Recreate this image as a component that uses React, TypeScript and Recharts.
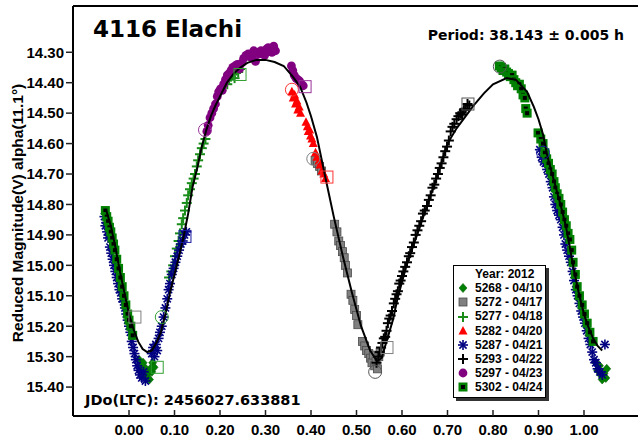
import { ScatterChart, Scatter, XAxis, YAxis, Legend } from 'recharts';

type Pt = [number, number];

// phase ticks and magnitude ticks
const xTicks = [0, 0.1, 0.2, 0.3, 0.4, 0.5, 0.6, 0.7, 0.8, 0.9, 1.0];
const yTicks = [14.3, 14.4, 14.5, 14.6, 14.7, 14.8, 14.9, 15.0, 15.1, 15.2, 15.3, 15.4];

// Fourier fit
const fitCurve: Pt[] = [
    [-0.05, 14.82], [-0.04, 14.87], [-0.03, 14.94], [-0.02, 15.02], [-0.01, 15.09], [0.0, 15.16],
    [0.01, 15.21], [0.02, 15.25], [0.03, 15.275], [0.04, 15.285], [0.05, 15.28], [0.06, 15.255],
    [0.07, 15.22], [0.08, 15.16], [0.09, 15.09], [0.1, 15.03], [0.11, 14.97], [0.12, 14.905],
    [0.13, 14.83], [0.14, 14.74], [0.15, 14.68], [0.16, 14.61], [0.17, 14.555], [0.18, 14.51],
    [0.19, 14.475], [0.2, 14.445], [0.215, 14.4], [0.23, 14.37], [0.245, 14.35], [0.26, 14.335],
    [0.28, 14.325], [0.3, 14.325], [0.32, 14.332], [0.34, 14.345], [0.36, 14.38], [0.376, 14.413],
    [0.39, 14.465], [0.4, 14.51], [0.413, 14.578], [0.43, 14.7], [0.45, 14.84], [0.47, 14.97],
    [0.49, 15.09], [0.51, 15.2], [0.53, 15.28], [0.545, 15.315], [0.555, 15.305], [0.567, 15.245],
    [0.58, 15.18], [0.59, 15.11], [0.61, 15.0], [0.64, 14.87], [0.67, 14.74], [0.7, 14.6],
    [0.72, 14.55], [0.74, 14.51], [0.76, 14.47], [0.78, 14.435], [0.8, 14.405], [0.83, 14.385],
    [0.85, 14.39], [0.875, 14.43], [0.89, 14.48], [0.9, 14.52], [0.91, 14.57], [0.92, 14.645],
    [0.93, 14.7], [0.94, 14.755], [0.95, 14.81], [0.96, 14.87], [0.97, 14.95], [0.98, 15.03],
    [0.99, 15.1], [1.0, 15.16], [1.01, 15.205], [1.02, 15.24], [1.03, 15.265], [1.04, 15.28],
];

const s5268: Pt[] = [
    [0.022, 15.31], [0.026, 15.33], [0.029, 15.35], [0.031, 15.32], [0.034, 15.36], [0.037, 15.34],
    [0.04, 15.37], [0.042, 15.355], [0.045, 15.375], [0.047, 15.34], [0.05, 15.35], [0.052, 15.32],
    [0.055, 15.335], [1.026, 15.32], [1.03, 15.345], [1.034, 15.33], [1.037, 15.36], [1.04, 15.375],
    [1.044, 15.355], [1.048, 15.37], [1.05, 15.34],
];

const s5272: Pt[] = [
    [0.409, 14.655], [0.414, 14.665], [0.419, 14.675], [0.423, 14.69], [0.452, 14.865], [0.457, 14.89],
    [0.461, 14.92], [0.465, 14.935], [0.469, 14.955], [0.473, 14.975], [0.476, 15.0], [0.48, 15.025],
    [0.488, 15.095], [0.492, 15.115], [0.496, 15.145], [0.5, 15.165], [0.503, 15.195], [0.513, 15.25],
    [0.518, 15.265], [0.522, 15.28], [0.527, 15.29], [0.531, 15.305], [0.534, 15.32], [0.537, 15.295],
    [0.54, 15.33], [0.543, 15.315], [0.546, 15.34], [0.549, 15.3], [0.552, 15.285],
];

const s5277: Pt[] = [
    [0.088, 15.04], [0.093, 15.02], [0.097, 15.0], [0.101, 14.97], [0.105, 14.945], [0.109, 14.92],
    [0.112, 14.895], [0.116, 14.865], [0.119, 14.845], [0.123, 14.82], [0.127, 14.795], [0.13, 14.77],
    [0.134, 14.75], [0.138, 14.73], [0.142, 14.715], [0.145, 14.7], [0.149, 14.675], [0.152, 14.655],
    [0.156, 14.635], [0.16, 14.615], [0.164, 14.6], [0.168, 14.585], [0.216, 14.405], [0.22, 14.39],
    [0.224, 14.38], [0.228, 14.37], [0.232, 14.385], [0.236, 14.36], [0.24, 14.365], [0.244, 14.355],
];

const s5282: Pt[] = [
    [0.358, 14.43], [0.361, 14.45], [0.364, 14.44], [0.366, 14.47], [0.369, 14.46], [0.371, 14.49],
    [0.374, 14.48], [0.377, 14.5], [0.389, 14.53], [0.392, 14.545], [0.394, 14.56], [0.397, 14.555],
    [0.399, 14.575], [0.402, 14.585], [0.405, 14.6], [0.41, 14.63], [0.413, 14.645], [0.417, 14.66],
    [0.42, 14.67], [0.424, 14.69], [0.428, 14.7], [0.432, 14.715],
];

const s5287: Pt[] = [
    [-0.054, 14.84], [-0.052, 14.87], [-0.05, 14.86], [-0.048, 14.89], [-0.046, 14.91], [-0.044, 14.9],
    [-0.042, 14.94], [-0.039, 14.96], [-0.036, 14.98], [-0.033, 15.0], [-0.03, 15.02], [-0.027, 15.04],
    [-0.024, 15.06], [-0.021, 15.08], [-0.018, 15.09], [-0.015, 15.11], [-0.012, 15.12], [-0.009, 15.14],
    [-0.006, 15.16], [-0.003, 15.18], [0.0, 15.2], [0.003, 15.22], [0.006, 15.25], [0.009, 15.27],
    [0.012, 15.29], [0.015, 15.31], [0.018, 15.33], [0.021, 15.345], [0.024, 15.36], [0.028, 15.37],
    [0.032, 15.35], [0.036, 15.38],
    [0.05, 15.29], [0.053, 15.27], [0.056, 15.3], [0.059, 15.26], [0.062, 15.28], [0.065, 15.24],
    [0.068, 15.22], [0.072, 15.2], [0.076, 15.17], [0.08, 15.14], [0.084, 15.11], [0.087, 15.08],
    [0.09, 15.06], [0.094, 15.03], [0.098, 15.01], [0.102, 14.99], [0.106, 14.97], [0.11, 14.95],
    [0.114, 14.93], [0.118, 14.92], [0.122, 14.9], [0.126, 14.89],
    [0.903, 14.62], [0.907, 14.645], [0.911, 14.66], [0.915, 14.665], [0.919, 14.685], [0.923, 14.7],
    [0.927, 14.725], [0.931, 14.745], [0.934, 14.775], [0.937, 14.8], [0.941, 14.82], [0.945, 14.835],
    [0.949, 14.85], [0.953, 14.875], [0.956, 14.9], [0.959, 14.93], [0.963, 14.95], [0.967, 14.97],
    [0.971, 14.99], [0.975, 15.02], [0.978, 15.05], [0.982, 15.08], [0.986, 15.1], [0.99, 15.125],
    [0.994, 15.15], [0.998, 15.17], [1.002, 15.19], [1.006, 15.215], [1.01, 15.24], [1.014, 15.26],
    [1.018, 15.285], [1.022, 15.31], [1.026, 15.32], [1.03, 15.34], [1.035, 15.35], [1.04, 15.36],
    [1.046, 15.26],
];

const s5293: Pt[] = [
    [0.544, 15.32], [0.548, 15.3], [0.551, 15.285], [0.554, 15.27], [0.557, 15.255], [0.56, 15.24],
    [0.563, 15.235], [0.566, 15.215], [0.569, 15.19], [0.572, 15.175], [0.575, 15.165], [0.578, 15.15],
    [0.582, 15.125], [0.585, 15.11], [0.588, 15.095], [0.591, 15.085], [0.594, 15.06], [0.597, 15.05],
    [0.6, 15.035], [0.603, 15.02], [0.607, 15.005], [0.611, 14.99], [0.615, 14.97], [0.618, 14.96],
    [0.622, 14.94], [0.626, 14.925], [0.63, 14.9], [0.634, 14.885], [0.638, 14.87], [0.642, 14.855],
    [0.646, 14.83], [0.65, 14.82], [0.655, 14.805], [0.659, 14.785], [0.663, 14.77], [0.667, 14.745],
    [0.671, 14.735], [0.675, 14.715], [0.679, 14.7], [0.683, 14.68], [0.687, 14.665], [0.691, 14.645],
    [0.695, 14.625], [0.699, 14.61], [0.703, 14.59], [0.707, 14.56], [0.711, 14.545], [0.715, 14.535],
    [0.72, 14.52], [0.724, 14.51], [0.728, 14.5], [0.732, 14.505], [0.736, 14.49], [0.74, 14.485],
    [0.744, 14.47], [0.748, 14.475],
];

const s5297: Pt[] = [
    [0.171, 14.56], [0.174, 14.54], [0.178, 14.515], [0.182, 14.5], [0.186, 14.485], [0.19, 14.47],
    [0.194, 14.445], [0.197, 14.43], [0.201, 14.42], [0.205, 14.425], [0.208, 14.405], [0.212, 14.39],
    [0.216, 14.375], [0.22, 14.37], [0.224, 14.36], [0.228, 14.35], [0.233, 14.345], [0.238, 14.34],
    [0.243, 14.355], [0.248, 14.335], [0.252, 14.32], [0.257, 14.31], [0.262, 14.305], [0.266, 14.315],
    [0.27, 14.31], [0.274, 14.295], [0.278, 14.33], [0.282, 14.3], [0.286, 14.305], [0.29, 14.295],
    [0.294, 14.3], [0.298, 14.31], [0.302, 14.29], [0.306, 14.285], [0.31, 14.295], [0.314, 14.3],
    [0.318, 14.28], [0.322, 14.295], [0.357, 14.345], [0.36, 14.36], [0.363, 14.375], [0.367, 14.385],
    [0.371, 14.39], [0.375, 14.395], [0.379, 14.405], [0.383, 14.41],
];

const s5302: Pt[] = [
    [-0.052, 14.82], [-0.049, 14.84], [-0.046, 14.855], [-0.043, 14.875], [-0.04, 14.89], [-0.037, 14.91],
    [-0.034, 14.93], [-0.031, 14.95], [-0.027, 14.98], [-0.023, 15.01], [-0.019, 15.04], [-0.015, 15.07],
    [-0.011, 15.1], [-0.007, 15.13], [-0.003, 15.16], [0.0, 15.18], [0.004, 15.2], [0.008, 15.23],
    [0.814, 14.345], [0.818, 14.35], [0.822, 14.36], [0.826, 14.355], [0.83, 14.365], [0.834, 14.37],
    [0.838, 14.38], [0.842, 14.375], [0.846, 14.39], [0.85, 14.4], [0.854, 14.41], [0.858, 14.405],
    [0.862, 14.42], [0.866, 14.44], [0.87, 14.45], [0.872, 14.485], [0.875, 14.5],
    [0.899, 14.565], [0.905, 14.585], [0.91, 14.6], [0.914, 14.63], [0.918, 14.65], [0.922, 14.665],
    [0.926, 14.685], [0.93, 14.7], [0.934, 14.725], [0.937, 14.745], [0.941, 14.765], [0.945, 14.78],
    [0.949, 14.8], [0.953, 14.825], [0.957, 14.85], [0.961, 14.87], [0.965, 14.895], [0.969, 14.915],
    [0.973, 14.95], [0.976, 14.99], [0.981, 15.03], [0.985, 15.07], [0.99, 15.1], [0.996, 15.13],
    [1.001, 15.16], [1.007, 15.19], [1.013, 15.22], [1.02, 15.25],
];

// first / last observation marks: [phase, mag, session]
const firstMarks: [number, number, string][] = [
    [0.167, 14.555, '5297'], [0.358, 14.423, '5282'], [0.405, 14.65, '5272'], [0.541, 15.35, '5293'],
    [0.815, 14.347, '5302'], [0.91, 14.63, '5287'], [0.072, 15.17, '5277'],
];
const lastMarks: [number, number, string][] = [
    [0.387, 14.413, '5297'], [0.435, 14.71, '5282'], [0.567, 15.27, '5272'], [0.745, 14.47, '5293'],
    [0.244, 14.373, '5277'], [0.123, 14.905, '5287'], [0.062, 15.335, '5268'], [0.013, 15.17, '5272'],
];

interface Session {
    key: string;
    label: string;
    color: string;
    kind: string;
    data: Pt[];
}

const sessions: Session[] = [
    { key: '5268', label: '5268 - 04/10', color: '#008000', kind: 'diamond', data: s5268 },
    { key: '5272', label: '5272 - 04/17', color: '#808080', kind: 'square', data: s5272 },
    { key: '5277', label: '5277 - 04/18', color: '#1a8c1a', kind: 'plus', data: s5277 },
    { key: '5282', label: '5282 - 04/20', color: '#ff0000', kind: 'triangle', data: s5282 },
    { key: '5287', label: '5287 - 04/21', color: '#000080', kind: 'asterisk', data: s5287 },
    { key: '5293', label: '5293 - 04/22', color: '#000000', kind: 'plus', data: s5293 },
    { key: '5297', label: '5297 - 04/23', color: '#800080', kind: 'circle', data: s5297 },
    { key: '5302', label: '5302 - 04/24', color: '#008000', kind: 'boxed', data: s5302 },
];

const markColor: Record<string, string> = {
    '5268': '#33a033', '5272': '#808080', '5277': '#33a033', '5282': '#ff3333',
    '5287': '#1a1aa0', '5293': '#555555', '5297': '#993399', '5302': '#555555',
};

const toPts = (arr: Pt[]) => arr.map(([x, y]) => ({ x, y }));

function Marker({ kind, cx, cy, color }: { kind: string; cx: number; cy: number; color: string }) {
    switch (kind) {
        case 'diamond':
            return <polygon points={`${cx},${cy - 4.5} ${cx + 4},${cy} ${cx},${cy + 4.5} ${cx - 4},${cy}`} fill={color} stroke="#0b5e0b" strokeWidth={0.6} />;
        case 'square':
            return <rect x={cx - 4} y={cy - 4} width={8} height={8} fill={color} stroke="#4a4a4a" strokeWidth={0.8} />;
        case 'plus':
            return (
                <g stroke={color} strokeWidth={2}>
                    <line x1={cx - 5} y1={cy} x2={cx + 5} y2={cy} />
                    <line x1={cx} y1={cy - 5} x2={cx} y2={cy + 5} />
                </g>
            );
        case 'triangle':
            return <polygon points={`${cx},${cy - 5} ${cx + 4.5},${cy + 3.5} ${cx - 4.5},${cy + 3.5}`} fill={color} />;
        case 'asterisk':
            return (
                <g stroke={color} strokeWidth={1.6}>
                    <line x1={cx - 5} y1={cy} x2={cx + 5} y2={cy} />
                    <line x1={cx} y1={cy - 5} x2={cx} y2={cy + 5} />
                    <line x1={cx - 3.6} y1={cy - 3.6} x2={cx + 3.6} y2={cy + 3.6} />
                    <line x1={cx - 3.6} y1={cy + 3.6} x2={cx + 3.6} y2={cy - 3.6} />
                </g>
            );
        case 'circle':
            return <circle cx={cx} cy={cy} r={4.4} fill={color} />;
        case 'boxed':
            return (
                <g>
                    <rect x={cx - 4.5} y={cy - 4.5} width={9} height={9} fill={color} />
                    <rect x={cx - 2} y={cy - 2} width={4} height={4} fill="#000" />
                </g>
            );
        default:
            return <g />;
    }
}

const LegendBox = () => (
    <div
        style={{
            border: '1px solid #000',
            boxShadow: '3px 3px 0 #333',
            background: '#fff',
            width: 91,
            padding: '1px 0 3px 0',
            fontFamily: '"Liberation Sans", Arial, sans-serif',
            fontWeight: 'bold',
            fontSize: 12,
            color: '#000',
            lineHeight: '14.15px',
        }}
    >
        <div style={{ paddingLeft: 21 }}>Year: 2012</div>
        {sessions.map((s) => (
            <div key={s.key} style={{ display: 'flex', alignItems: 'center', height: 14.15 }}>
                <svg width={12} height={12} style={{ marginLeft: 3, marginRight: 6 }}>
                    <Marker kind={s.kind} cx={6} cy={6} color={s.color} />
                </svg>
                <span>{s.label}</span>
            </div>
        ))}
    </div>
);

const tickFont = { fontFamily: '"Liberation Sans", Arial, sans-serif', fontWeight: 'bold', fontSize: 15, fill: '#000' };
const xDomain = [-0.1231, 1.1187];
const yDomain = [14.148, 15.495];

export default function App() {
    return (
        <div style={{ position: 'absolute', left: 0, top: 0, width: 638, height: 439, overflow: 'hidden', background: '#fff' }}>
            <ScatterChart width={640} height={439} margin={{ top: 5, right: 0, bottom: 0, left: 0 }}>
                <XAxis
                    type="number"
                    dataKey="x"
                    domain={xDomain}
                    allowDataOverflow
                    ticks={xTicks}
                    interval={0}
                    tickFormatter={(v: number) => v.toFixed(2)}
                    tick={tickFont}
                    tickSize={-6}
                    tickMargin={14}
                    height={23}
                    axisLine={{ stroke: '#000', strokeWidth: 2 }}
                    tickLine={{ stroke: '#222', strokeWidth: 1.5 }}
                />
                <XAxis
                    xAxisId="top"
                    orientation="top"
                    type="number"
                    dataKey="x"
                    domain={xDomain}
                    allowDataOverflow
                    ticks={xTicks}
                    interval={0}
                    tick={false}
                    tickSize={-7}
                    height={1}
                    axisLine={{ stroke: '#000', strokeWidth: 2 }}
                    tickLine={{ stroke: '#222', strokeWidth: 1.5 }}
                />
                <YAxis
                    type="number"
                    dataKey="y"
                    domain={yDomain}
                    reversed
                    allowDataOverflow
                    ticks={yTicks}
                    interval={0}
                    tickFormatter={(v: number) => v.toFixed(2)}
                    tick={tickFont}
                    tickSize={7}
                    tickMargin={2}
                    width={73}
                    axisLine={{ stroke: '#000', strokeWidth: 2 }}
                    tickLine={{ stroke: '#222', strokeWidth: 1.5 }}
                />
                <YAxis
                    yAxisId="right"
                    orientation="right"
                    type="number"
                    dataKey="y"
                    domain={yDomain}
                    reversed
                    allowDataOverflow
                    ticks={yTicks}
                    interval={0}
                    tick={false}
                    tickSize={-6}
                    width={2}
                    axisLine={false}
                    tickLine={{ stroke: '#222', strokeWidth: 1.5 }}
                />
                <Legend
                    layout="vertical"
                    align="center"
                    verticalAlign="middle"
                    content={() => <LegendBox />}
                    wrapperStyle={{ left: 453, top: 265, width: 96 }}
                />
                {sessions.map((s) => (
                    <Scatter
                        key={s.key}
                        name={s.label}
                        data={toPts(s.data)}
                        isAnimationActive={false}
                        shape={(p: any) => <Marker kind={s.kind} cx={p.cx} cy={p.cy} color={s.color} />}
                    />
                ))}
                <Scatter
                    name="fit"
                    data={toPts(fitCurve)}
                    xAxisId="top"
                    yAxisId="right"
                    line={{ stroke: '#000', strokeWidth: 2 }}
                    lineType="joint"
                    legendType="none"
                    isAnimationActive={false}
                    shape={() => <g />}
                />
                <Scatter
                    name="first"
                    data={firstMarks.map(([x, y, s]) => ({ x, y, s }))}
                    legendType="none"
                    isAnimationActive={false}
                    shape={(p: any) => (
                        <circle cx={p.cx} cy={p.cy} r={6.5} fill="none" stroke={markColor[p.payload?.s ?? p.s]} strokeWidth={1} />
                    )}
                />
                <Scatter
                    name="last"
                    data={lastMarks.map(([x, y, s]) => ({ x, y, s }))}
                    legendType="none"
                    isAnimationActive={false}
                    shape={(p: any) => (
                        <rect x={p.cx - 6} y={p.cy - 6} width={12} height={12} fill="none" stroke={markColor[p.payload?.s ?? p.s]} strokeWidth={1} />
                    )}
                />
            </ScatterChart>
            <svg width={638} height={439} style={{ position: 'absolute', left: 0, top: 0, pointerEvents: 'none' }}>
                <text x={93} y={37} fontFamily='"DejaVu Sans", Verdana, sans-serif' fontWeight="bold" fontSize={23} fill="#000">
                    4116 Elachi
                </text>
                <text x={624} y={40} textAnchor="end" fontFamily='"DejaVu Sans", Verdana, sans-serif' fontWeight="bold" fontSize={14} fill="#000">
                    Period: 38.143 ± 0.005 h
                </text>
                <text x={85} y={405} fontFamily='"DejaVu Sans", Verdana, sans-serif' fontWeight="bold" fontSize={14.5} fill="#000">
                    JDo(LTC): 2456027.633881
                </text>
                <text
                    transform="translate(23, 213) rotate(-90)"
                    textAnchor="middle"
                    fontFamily='"Liberation Sans", Arial, sans-serif'
                    fontWeight="bold"
                    fontSize={15.5}
                    fill="#000"
                >
                    Reduced Magnitude(V) alpha(11.1°)
                </text>
            </svg>
        </div>
    );
}
